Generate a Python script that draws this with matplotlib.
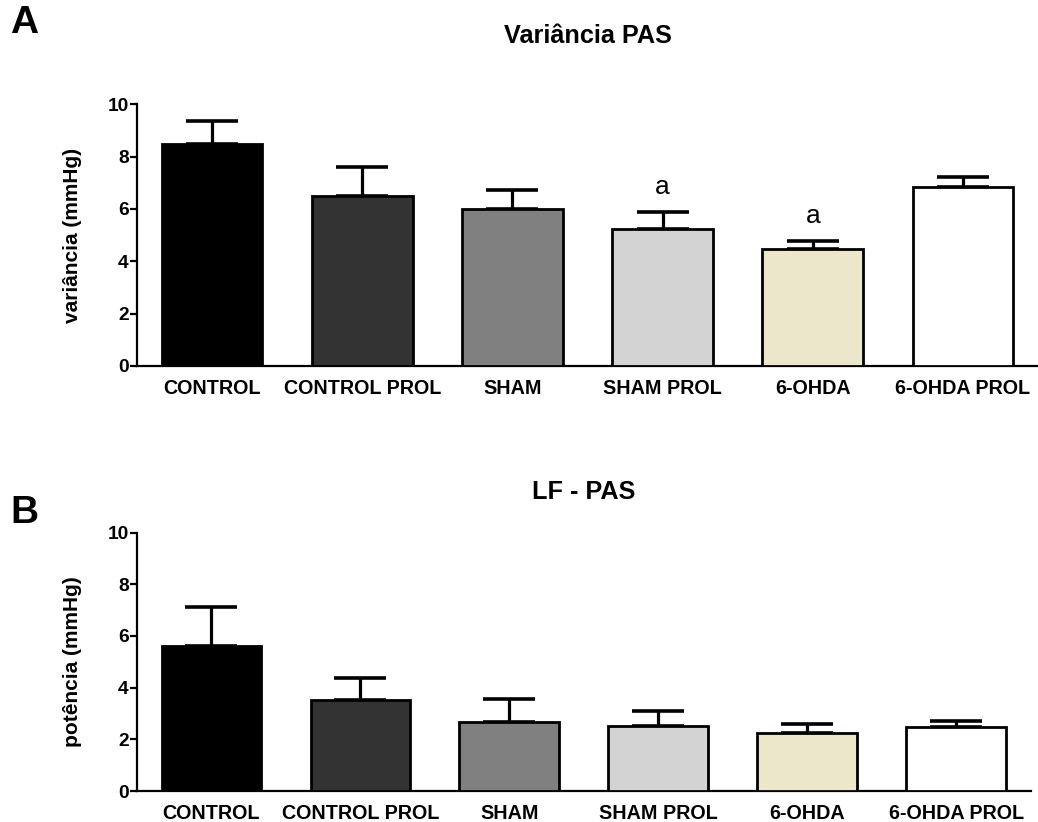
import matplotlib
matplotlib.use("Agg")
import matplotlib.pyplot as plt

# ============================================
# Données
# ============================================
groups = ["CONTROL", "CONTROL PROL", "SHAM", "SHAM PROL", "6-OHDA", "6-OHDA PROL"]
bar_colors = ["#000000", "#333333", "#808080", "#d3d3d3", "#ece6ca", "#ffffff"]

variancia_mean = [8.50, 6.48, 5.98, 5.23, 4.48, 6.84]
variancia_sem = [0.87, 1.14, 0.74, 0.65, 0.30, 0.37]
variancia_marks = ["", "", "", "a", "a", ""]

lf_mean = [5.61, 3.51, 2.68, 2.52, 2.23, 2.49]
lf_sem = [1.50, 0.88, 0.89, 0.58, 0.38, 0.22]

plt.rcParams["font.family"] = ["Liberation Sans", "DejaVu Sans"]

fig = plt.figure(figsize=(10.38, 8.22), dpi=100)


def draw_panel(rect, means, sems, title, ylabel, letter, letter_y, title_y, marks=None):
    ax = fig.add_axes(rect)
    x = list(range(len(groups)))
    ax.bar(x, means, width=0.67, color=bar_colors, edgecolor="black",
           linewidth=2.0, zorder=3)
    ax.errorbar(x, means, yerr=[[0] * len(sems), sems], fmt="none",
                ecolor="black", elinewidth=2.3, capsize=18.5, capthick=2.6, zorder=2)
    if marks:
        for xi, m, s, lab in zip(x, means, sems, marks):
            if lab:
                ax.text(xi, m + s + 0.95, lab, ha="center", va="center", fontsize=19)

    ax.set_xlim(-0.5, 5.5)
    ax.set_ylim(0, 10)
    ax.set_yticks([0, 2, 4, 6, 8, 10])
    ax.set_xticks(x)
    ax.set_xticklabels(groups, fontsize=14.2, fontweight="bold")
    for t in ax.get_yticklabels():
        t.set_fontsize(13.8)
        t.set_fontweight("bold")
    ax.tick_params(axis="x", length=0, pad=9.5)
    ax.tick_params(axis="y", length=5, width=1.6, pad=1)
    for side in ["top", "right"]:
        ax.spines[side].set_visible(False)
    for side in ["left", "bottom"]:
        ax.spines[side].set_linewidth(1.6)

    ax.set_ylabel(ylabel, fontsize=15, fontweight="bold")
    ax.yaxis.label.set_va("center")
    ax.yaxis.set_label_coords(-0.072, 0.5)

    fig.text((rect[0] + rect[0] + rect[2]) / 2, title_y, title, ha="center", va="center",
             fontsize=18.2, fontweight="bold")
    fig.text(0.0235, letter_y, letter, ha="center", va="center", fontsize=28, fontweight="bold")
    return ax


draw_panel([0.132, 0.555, 0.868, 0.318], variancia_mean, variancia_sem,
           "Variância PAS", "variância (mmHg)", "A", 1 - 23 / 822, 1 - 36 / 822,
           marks=variancia_marks)
draw_panel([0.132, 0.0377, 0.861, 0.3143], lf_mean, lf_sem,
           "LF - PAS", "potência (mmHg)", "B", 1 - 513 / 822, 1 - 492 / 822)

plt.savefig("out.png", dpi=100)
